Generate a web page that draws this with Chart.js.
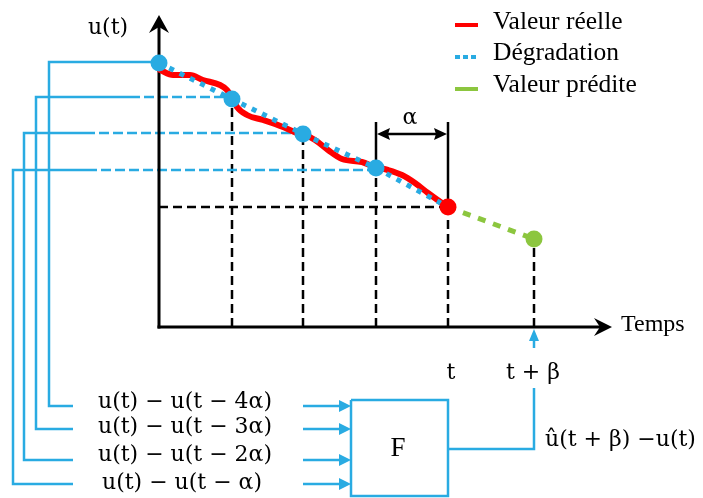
<!DOCTYPE html>
<html><head><meta charset="utf-8">
<script src="https://cdn.jsdelivr.net/npm/chart.js@4"></script>
<style>html,body{margin:0;padding:0;background:#fff;overflow:hidden}canvas{display:block}</style>
</head><body>
<canvas id="c" width="703" height="498"></canvas>
<script>
// ---- data (diagram units: time along x, u along y; origin at the axes corner) ----
const sampleTimes = [0, 73, 144, 217, 289];          // t-4α, t-3α, t-2α, t-α, t
const sampleValues = [264, 228, 193, 159, 120];      // u at those times
const predictedTime = 375;                           // t+β
const predictedValue = 88;                           // û(t+β)
const realTimes = [1, 14, 31, 44, 61, 68, 74, 78, 88, 104, 124, 138, 144, 156, 169, 183, 203, 216, 229, 243, 256, 269, 283, 288];
const realValues = [257, 252, 252, 247, 242, 237, 228, 220, 212, 207, 200, 194, 193, 187, 177, 168, 165, 160, 157, 152, 144, 134, 124, 121];
const connectorLevels = [265, 230, 194, 157];
const connectorLeft = [-110, -123, -135, -146];
const connectorSolidEnd = [0, -29, -74, -72];
const inputRows = [-79, -102, -133, -157];
const inputLabels = ['u(t) − u(t − 4α)', 'u(t) − u(t − 3α)', 'u(t) − u(t − 2α)', 'u(t) − u(t − α)'];
const inputLabelY = [-75, -100, -128, -156];
const legendLabels = ['Valeur réelle', 'Dégradation', 'Valeur prédite'];
const legendRows = [302, 270, 238];
const legendTextRows = [305, 274, 242];
const axisEnds = {x: 453, y: 312};
const box = {left: 192, right: 289, top: -73, bottom: -169};
const inputArrowStart = 144;
const outputRow = -122;
const outputTop = -61;
const outputArrowFrom = -21;
const bracketTop = 205;
const bracketRow = 193;

const BLUE = '#29ABE2', RED = '#FF0000', GREEN = '#8CC63F', BLACK = '#000000';

const datasets = [];
function seg(pts, color, width, dash, order) {
  datasets.push({
    data: pts.map(p => ({x: p[0], y: p[1]})),
    showLine: true, borderColor: color, borderWidth: width,
    borderDash: dash || [], pointRadius: 0, fill: false, tension: 0,
    clip: false, order: order, borderCapStyle: 'butt'
  });
}
// black dashed guides
seg([[0, sampleValues[4]], [sampleTimes[4], sampleValues[4]]], BLACK, 2.5, [9, 5], 100);
for (let i = 1; i < 5; i++) seg([[sampleTimes[i], 0], [sampleTimes[i], sampleValues[i]]], BLACK, 2.5, [9, 5], 100);
seg([[predictedTime, 0], [predictedTime, predictedValue]], BLACK, 2.5, [9, 5], 100);
// bracket verticals
seg([[sampleTimes[3], sampleValues[3]], [sampleTimes[3], bracketTop]], BLACK, 2.5, null, 99);
seg([[sampleTimes[4], sampleValues[4]], [sampleTimes[4], bracketTop]], BLACK, 2.5, null, 99);
seg([[sampleTimes[3] + 6, bracketRow], [sampleTimes[4] - 6, bracketRow]], BLACK, 2.5, null, 99);
// blue connectors
for (let i = 0; i < 4; i++) {
  const lv = connectorLevels[i];
  if (i > 0) seg([[connectorSolidEnd[i], lv], [sampleTimes[i], lv]], BLUE, 2.5, [10, 4], 90);
  seg([[connectorSolidEnd[i], lv], [connectorLeft[i], lv], [connectorLeft[i], inputRows[i]], [-86, inputRows[i]]], BLUE, 2.5, null, 90);
  seg([[inputArrowStart, inputRows[i]], [box.left - 8, inputRows[i]]], BLUE, 2.5, null, 90);
}
// box F and output
seg([[box.left, box.top], [box.right, box.top], [box.right, box.bottom], [box.left, box.bottom], [box.left, box.top]], BLUE, 2.5, null, 90);
seg([[box.right, outputRow], [predictedTime, outputRow], [predictedTime, outputTop]], BLUE, 2.5, null, 90);
seg([[predictedTime, outputArrowFrom], [predictedTime, -10]], BLUE, 2.5, null, 90);
// axes
seg([[0, -1.5], [0, axisEnds.y - 10]], BLACK, 3, null, 80);
seg([[-1.5, 0], [axisEnds.x - 10, 0]], BLACK, 3, null, 80);
// real value curve
datasets.push({data: realTimes.map((t, i) => ({x: t, y: realValues[i]})), showLine: true, borderColor: RED, borderWidth: 6, pointRadius: 0, tension: 0.4, cubicInterpolationMode: 'monotone', clip: false, order: 50, borderCapStyle: 'round'});
// degradation dotted
seg(sampleTimes.map((t, i) => [t, sampleValues[i]]), BLUE, 5, [5, 6.5], 40);
// predicted dotted
seg([[sampleTimes[4], sampleValues[4]], [predictedTime, predictedValue]], GREEN, 5, [8, 8], 40);
// legend marks
seg([[296, legendRows[0]], [319, legendRows[0]]], RED, 4, null, 30);
seg([[296, legendRows[1]], [319, legendRows[1]]], BLUE, 4, [5, 3], 30);
seg([[296, legendRows[2]], [319, legendRows[2]]], GREEN, 4, null, 30);
// points
datasets.push({data: sampleTimes.slice(0, 4).map((t, i) => ({x: t, y: sampleValues[i]})), pointRadius: 8.5, pointBackgroundColor: BLUE, pointBorderWidth: 0, showLine: false, clip: false, order: 1});
datasets.push({data: [{x: sampleTimes[4], y: sampleValues[4]}], pointRadius: 8.5, pointBackgroundColor: RED, pointBorderWidth: 0, showLine: false, clip: false, order: 1});
datasets.push({data: [{x: predictedTime, y: predictedValue}], pointRadius: 8.5, pointBackgroundColor: GREEN, pointBorderWidth: 0, showLine: false, clip: false, order: 1});

function arrowHead(ctx, tx, ty, dx, dy, len, hw, notch, color) {
  const px = -dy, py = dx;
  const bx = tx - dx * len, by = ty - dy * len;
  ctx.beginPath();
  ctx.moveTo(tx, ty);
  ctx.lineTo(bx + px * hw, by + py * hw);
  ctx.lineTo(tx - dx * (len - notch), ty - dy * (len - notch));
  ctx.lineTo(bx - px * hw, by - py * hw);
  ctx.closePath();
  ctx.fillStyle = color;
  ctx.fill();
}

const overlay = {
  id: 'overlay',
  afterDatasetsDraw(chart) {
    const ctx = chart.ctx, xs = chart.scales.x, ys = chart.scales.y;
    const X = v => xs.getPixelForValue(v), Y = v => ys.getPixelForValue(v);
    ctx.save();
    // axis arrows
    arrowHead(ctx, X(0), Y(axisEnds.y), 0, -1, 18, 10, 6, BLACK);
    arrowHead(ctx, X(axisEnds.x), Y(0), 1, 0, 18, 9, 6, BLACK);
    // bracket arrows
    arrowHead(ctx, X(sampleTimes[3]) + 1, Y(bracketRow), -1, 0, 13, 6, 2, BLACK);
    arrowHead(ctx, X(sampleTimes[4]) - 1, Y(bracketRow), 1, 0, 13, 6, 2, BLACK);
    // input arrows
    for (let i = 0; i < 4; i++) arrowHead(ctx, X(box.left), Y(inputRows[i]), 1, 0, 12, 6, 0, BLUE);
    // output arrow
    arrowHead(ctx, X(predictedTime), Y(0) + 2, 0, -1, 12, 5, 0, BLUE);

    ctx.fillStyle = BLACK;
    ctx.textBaseline = 'middle';
    const math = '22px "DejaVu Serif"';
    ctx.font = math;
    ctx.textAlign = 'center';
    ctx.fillText('u(t)', X(-51), Y(299));
    ctx.fillText('α', X(251), Y(209));
    ctx.fillText('t', X(292), Y(-46));
    ctx.fillText('t + β', X(374), Y(-46));
    for (let i = 0; i < 4; i++) ctx.fillText(inputLabels[i], X(i === 3 ? 23 : 26), Y(inputLabelY[i]));
    ctx.font = '27px "Liberation Serif"';
    ctx.fillText('F', X(239), Y(-122));
    ctx.font = math;
    ctx.textAlign = 'left';
    ctx.fillText('û(t + β) −u(t)', X(386), Y(-113));
    ctx.font = '24px "Liberation Serif"';
    ctx.fillText('Temps', X(462), Y(2));
    ctx.font = '25.5px "Liberation Serif"';
    for (let i = 0; i < 3; i++) ctx.fillText(legendLabels[i], X(334), Y(legendTextRows[i]));
    ctx.restore();
  }
};

new Chart(document.getElementById('c'), {
  type: 'scatter',
  data: {datasets},
  options: {
    responsive: false, animation: false,
    layout: {padding: 0, autoPadding: false},
    plugins: {legend: {display: false}, tooltip: {enabled: false}},
    scales: {
      x: {type: 'linear', min: -159, max: 544, display: false},
      y: {type: 'linear', min: -171, max: 327, display: false}
    }
  },
  plugins: [overlay]
});
</script>
</body></html>
